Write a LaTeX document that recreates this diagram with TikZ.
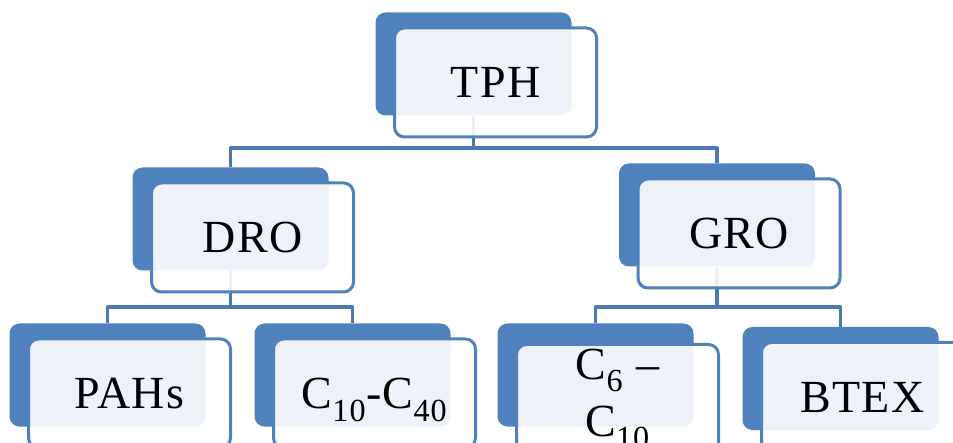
\documentclass[tikz,border=0pt]{standalone}
\usepackage{fontspec}
\setmainfont[LetterSpace=3]{Liberation Serif}
\usetikzlibrary{calc}

\definecolor{boxblue}{HTML}{4F81BD}
\definecolor{linkblue}{HTML}{4A79B2}

\begin{document}
\begin{tikzpicture}[x=1pt, y=-1pt, line join=round]
	\useasboundingbox (0,0) rectangle (953,443);
	\clip (0,0) rectangle (953,443);
	\tikzset{
		back/.style={rectangle, rounded corners=10pt, fill=boxblue, inner sep=0pt,
				minimum width=196pt, minimum height=103pt},
		front/.style={rectangle, rounded corners=10pt, draw=boxblue, line width=3pt,
				fill=white, fill opacity=0.9, text opacity=1, inner sep=0pt,
				minimum width=202pt, minimum height=109pt,
				font=\fontsize{46}{57}\selectfont, align=center},
		oneline/.style={text depth=0pt},
		link/.style={draw=linkblue, line width=3.2pt}
	}

	% --- back boxes (the dark blue tabs)
	\node[back] (tphB)  at (473.5,64)  {};
	\node[back] (droB)  at (230.5,219) {};
	\node[back] (groB)  at (717,215)   {};
	\node[back] (pahsB) at (107.5,375) {};
	\node[back] (ctenB) at (352.5,375) {};
	\node[back] (csixB) at (595.5,375) {};
	\node[back] (btexB) at (840.5,378.5) {};

	% --- y levels of the elbow connectors
	\coordinate (tphbar) at (0,148);
	\coordinate (subbar) at (0,307);

	% --- connectors (under the front boxes)
	\draw[link] (tphB.south) -- (tphB.south |- tphbar);
	\draw[link] (droB.north) -- (droB.north |- tphbar) -- (groB.north |- tphbar) -- (groB.north);

	\draw[link] (droB.south) -- (droB.south |- subbar);
	\draw[link] (pahsB.north) -- (pahsB.north |- subbar) -- (ctenB.north |- subbar) -- (ctenB.north);

	\draw[link] (groB.south) -- (groB.south |- subbar);
	\draw[link] (csixB.north) -- (csixB.north |- subbar) -- (btexB.north |- subbar) -- (btexB.north);

	% --- front boxes with the texts
	\node[front, oneline] (tph)  at ($(tphB)+(22,18.5)$)  {TPH};
	\node[front, oneline] (dro)  at ($(droB)+(22,18.5)$)  {DRO};
	\node[front, oneline] (gro)  at ($(groB)+(22,18.5)$)  {GRO};
	\node[front, oneline] (pahs) at ($(pahsB)+(22,18.5)$) {PAHs};
	\node[front, oneline] (cten) at ($(ctenB)+(22,18.5)$) {C\textsubscript{10}-C\textsubscript{40}};
	\node[front] (csix) at ($(csixB)+(22,24)$) {C\textsubscript{6} –\\C\textsubscript{10}};
	\node[front, oneline] (btex) at ($(btexB)+(22,18.5)$) {BTEX};

\end{tikzpicture}
\end{document}
